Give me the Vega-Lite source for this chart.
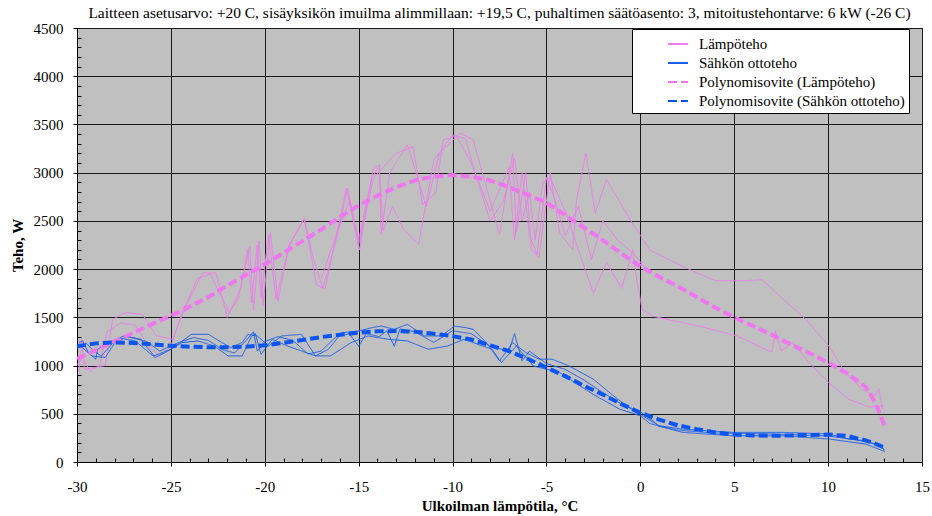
{
  "$schema": "https://vega.github.io/schema/vega-lite/v6.json",
  "width": 845,
  "height": 434,
  "autosize": {"type": "none"},
  "padding": {"left": 77, "top": 28, "right": 10, "bottom": 54},
  "background": "white",
  "title": {
    "text": "Laitteen asetusarvo: +20  C, sisäyksikön imuilma alimmillaan: +19,5  C, puhaltimen säätöasento: 3, mitoitustehontarve: 6 kW (-26  C)",
    "font": "'Liberation Serif', 'Times New Roman', serif",
    "fontSize": 15.5,
    "fontWeight": "normal",
    "color": "black",
    "anchor": "middle",
    "offset": 0
  },
  "config": {
    "view": {"stroke": "#111", "strokeWidth": 1, "fill": "#C0C0C0"},
    "axis": {
      "labelFont": "'Liberation Serif', 'Times New Roman', serif",
      "labelFontSize": 15,
      "labelColor": "black",
      "titleFont": "'Liberation Serif', 'Times New Roman', serif",
      "titleFontSize": 15,
      "titleFontWeight": "bold",
      "titleColor": "black",
      "domainColor": "black",
      "tickColor": "black",
      "gridColor": "#1a1a1a",
      "gridWidth": 1
    },
    "legend": {
      "orient": "none",
      "legendX": 555,
      "legendY": 1,
      "fillColor": "white",
      "strokeColor": "black",
      "padding": 4,
      "labelFont": "'Liberation Serif', 'Times New Roman', serif",
      "labelFontSize": 15,
      "labelColor": "black",
      "labelLimit": 400,
      "symbolType": "stroke",
      "symbolSize": 400,
      "symbolStrokeWidth": 2,
      "symbolOffset": 31,
      "labelOffset": 10,
      "rowPadding": 0
    }
  },
  "data": {
    "values": [
      {"s":"Lämpöteho","r":"L1","x":-29.9,"y":930},{"s":"Lämpöteho","r":"L1","x":-29.75,"y":1270},{"s":"Lämpöteho","r":"L1","x":-29.6,"y":960},{"s":"Lämpöteho","r":"L1","x":-28.5,"y":1000},{"s":"Lämpöteho","r":"L1","x":-28.1,"y":1480},{"s":"Lämpöteho","r":"L1","x":-27.4,"y":1550},{"s":"Lämpöteho","r":"L1","x":-26.5,"y":1530},{"s":"Lämpöteho","r":"L1","x":-25.8,"y":1310},{"s":"Lämpöteho","r":"L1","x":-24.9,"y":1270},{"s":"Lämpöteho","r":"L1","x":-24.2,"y":1620},{"s":"Lämpöteho","r":"L1","x":-23.3,"y":1960},{"s":"Lämpöteho","r":"L1","x":-22.6,"y":1960},{"s":"Lämpöteho","r":"L1","x":-22.0,"y":1500},{"s":"Lämpöteho","r":"L1","x":-21.3,"y":1790},{"s":"Lämpöteho","r":"L1","x":-20.8,"y":2240},{"s":"Lämpöteho","r":"L1","x":-20.6,"y":1570},{"s":"Lämpöteho","r":"L1","x":-20.3,"y":2290},{"s":"Lämpöteho","r":"L1","x":-20.1,"y":1620},{"s":"Lämpöteho","r":"L1","x":-19.7,"y":2380},{"s":"Lämpöteho","r":"L1","x":-19.3,"y":1670},{"s":"Lämpöteho","r":"L1","x":-18.7,"y":2250},{"s":"Lämpöteho","r":"L1","x":-17.9,"y":2530},{"s":"Lämpöteho","r":"L1","x":-17.25,"y":1840},{"s":"Lämpöteho","r":"L1","x":-16.8,"y":1790},{"s":"Lämpöteho","r":"L1","x":-15.65,"y":2840},{"s":"Lämpöteho","r":"L1","x":-14.95,"y":2200},{"s":"Lämpöteho","r":"L1","x":-14.24,"y":3030},{"s":"Lämpöteho","r":"L1","x":-13.9,"y":3080},{"s":"Lämpöteho","r":"L1","x":-13.8,"y":2360},{"s":"Lämpöteho","r":"L1","x":-13.35,"y":3000},{"s":"Lämpöteho","r":"L1","x":-12.4,"y":3290},{"s":"Lämpöteho","r":"L1","x":-11.4,"y":2650},{"s":"Lämpöteho","r":"L1","x":-10.7,"y":3200},{"s":"Lämpöteho","r":"L1","x":-9.6,"y":3410},{"s":"Lämpöteho","r":"L1","x":-8.9,"y":3340},{"s":"Lämpöteho","r":"L1","x":-7.5,"y":2360},{"s":"Lämpöteho","r":"L1","x":-6.8,"y":3200},{"s":"Lämpöteho","r":"L1","x":-6.6,"y":2390},{"s":"Lämpöteho","r":"L1","x":-6.1,"y":3000},{"s":"Lämpöteho","r":"L1","x":-5.8,"y":2200},{"s":"Lämpöteho","r":"L1","x":-5.4,"y":2120},{"s":"Lämpöteho","r":"L1","x":-4.8,"y":3000},{"s":"Lämpöteho","r":"L1","x":-4.3,"y":2380},{"s":"Lämpöteho","r":"L1","x":-3.6,"y":2200},{"s":"Lämpöteho","r":"L1","x":-3.4,"y":2720},{"s":"Lämpöteho","r":"L1","x":-2.9,"y":3200},{"s":"Lämpöteho","r":"L1","x":-2.4,"y":2580},{"s":"Lämpöteho","r":"L1","x":-1.8,"y":2930},{"s":"Lämpöteho","r":"L1","x":-0.5,"y":2500},{"s":"Lämpöteho","r":"L1","x":0.5,"y":2200},{"s":"Lämpöteho","r":"L1","x":1.5,"y":2100},{"s":"Lämpöteho","r":"L1","x":2.8,"y":1980},{"s":"Lämpöteho","r":"L1","x":4.0,"y":1880},{"s":"Lämpöteho","r":"L1","x":5.5,"y":1880},{"s":"Lämpöteho","r":"L1","x":6.5,"y":1890},{"s":"Lämpöteho","r":"L1","x":7.2,"y":1760},{"s":"Lämpöteho","r":"L1","x":8.8,"y":1480},{"s":"Lämpöteho","r":"L1","x":10.05,"y":1200},{"s":"Lämpöteho","r":"L1","x":10.9,"y":930},{"s":"Lämpöteho","r":"L1","x":11.8,"y":755},{"s":"Lämpöteho","r":"L1","x":12.5,"y":690},{"s":"Lämpöteho","r":"L1","x":12.7,"y":760},{"s":"Lämpöteho","r":"L1","x":12.9,"y":550},
      {"s":"Lämpöteho","r":"L2","x":-30,"y":1010},{"s":"Lämpöteho","r":"L2","x":-29.7,"y":1080},{"s":"Lämpöteho","r":"L2","x":-29.3,"y":940},{"s":"Lämpöteho","r":"L2","x":-28.8,"y":1000},{"s":"Lämpöteho","r":"L2","x":-28.4,"y":1350},{"s":"Lämpöteho","r":"L2","x":-27.7,"y":1440},{"s":"Lämpöteho","r":"L2","x":-26.9,"y":1420},{"s":"Lämpöteho","r":"L2","x":-26.2,"y":1200},{"s":"Lämpöteho","r":"L2","x":-25.6,"y":1100},{"s":"Lämpöteho","r":"L2","x":-25.0,"y":1200},{"s":"Lämpöteho","r":"L2","x":-24.4,"y":1550},{"s":"Lämpöteho","r":"L2","x":-23.6,"y":1900},{"s":"Lämpöteho","r":"L2","x":-22.9,"y":1950},{"s":"Lämpöteho","r":"L2","x":-22.4,"y":1750},{"s":"Lämpöteho","r":"L2","x":-21.9,"y":1550},{"s":"Lämpöteho","r":"L2","x":-21.4,"y":1700},{"s":"Lämpöteho","r":"L2","x":-20.9,"y":2200},{"s":"Lämpöteho","r":"L2","x":-20.7,"y":1650},{"s":"Lämpöteho","r":"L2","x":-20.4,"y":2250},{"s":"Lämpöteho","r":"L2","x":-20.2,"y":1700},{"s":"Lämpöteho","r":"L2","x":-19.8,"y":2350},{"s":"Lämpöteho","r":"L2","x":-19.4,"y":1690},{"s":"Lämpöteho","r":"L2","x":-18.7,"y":2240},{"s":"Lämpöteho","r":"L2","x":-17.9,"y":2520},{"s":"Lämpöteho","r":"L2","x":-17.4,"y":2100},{"s":"Lämpöteho","r":"L2","x":-16.9,"y":1800},{"s":"Lämpöteho","r":"L2","x":-16.2,"y":2300},{"s":"Lämpöteho","r":"L2","x":-15.6,"y":2840},{"s":"Lämpöteho","r":"L2","x":-15.0,"y":2300},{"s":"Lämpöteho","r":"L2","x":-14.3,"y":2950},{"s":"Lämpöteho","r":"L2","x":-13.9,"y":3060},{"s":"Lämpöteho","r":"L2","x":-13.7,"y":2400},{"s":"Lämpöteho","r":"L2","x":-13.2,"y":2650},{"s":"Lämpöteho","r":"L2","x":-12.6,"y":2410},{"s":"Lämpöteho","r":"L2","x":-11.8,"y":2260},{"s":"Lämpöteho","r":"L2","x":-11.0,"y":3130},{"s":"Lämpöteho","r":"L2","x":-10.0,"y":3390},{"s":"Lämpöteho","r":"L2","x":-9.3,"y":3350},{"s":"Lämpöteho","r":"L2","x":-8.8,"y":3000},{"s":"Lämpöteho","r":"L2","x":-8.0,"y":2500},{"s":"Lämpöteho","r":"L2","x":-7.3,"y":2700},{"s":"Lämpöteho","r":"L2","x":-6.7,"y":3150},{"s":"Lämpöteho","r":"L2","x":-6.3,"y":2500},{"s":"Lämpöteho","r":"L2","x":-5.9,"y":2800},{"s":"Lämpöteho","r":"L2","x":-5.6,"y":2300},{"s":"Lämpöteho","r":"L2","x":-5.2,"y":2900},{"s":"Lämpöteho","r":"L2","x":-4.8,"y":2950},{"s":"Lämpöteho","r":"L2","x":-4.0,"y":2600},{"s":"Lämpöteho","r":"L2","x":-3.3,"y":2200},{"s":"Lämpöteho","r":"L2","x":-2.5,"y":1750},{"s":"Lämpöteho","r":"L2","x":-1.8,"y":2070},{"s":"Lämpöteho","r":"L2","x":-1.0,"y":1800},{"s":"Lämpöteho","r":"L2","x":-0.4,"y":2200},{"s":"Lämpöteho","r":"L2","x":-0.2,"y":1900},{"s":"Lämpöteho","r":"L2","x":0.1,"y":1580},{"s":"Lämpöteho","r":"L2","x":0.7,"y":1510},{"s":"Lämpöteho","r":"L2","x":3.1,"y":1410},{"s":"Lämpöteho","r":"L2","x":5.1,"y":1310},{"s":"Lämpöteho","r":"L2","x":7.0,"y":1140},{"s":"Lämpöteho","r":"L2","x":7.2,"y":1360},{"s":"Lämpöteho","r":"L2","x":7.5,"y":1150},{"s":"Lämpöteho","r":"L2","x":8.1,"y":1240},{"s":"Lämpöteho","r":"L2","x":9.0,"y":1030},{"s":"Lämpöteho","r":"L2","x":10.05,"y":820},{"s":"Lämpöteho","r":"L2","x":11.1,"y":650},{"s":"Lämpöteho","r":"L2","x":12.2,"y":570},{"s":"Lämpöteho","r":"L2","x":12.9,"y":580},
      {"s":"Lämpöteho","r":"L3","x":-17.0,"y":1900},{"s":"Lämpöteho","r":"L3","x":-16.3,"y":2300},{"s":"Lämpöteho","r":"L3","x":-15.5,"y":2700},{"s":"Lämpöteho","r":"L3","x":-15.0,"y":2250},{"s":"Lämpöteho","r":"L3","x":-14.2,"y":2950},{"s":"Lämpöteho","r":"L3","x":-13.0,"y":3200},{"s":"Lämpöteho","r":"L3","x":-12.1,"y":3270},{"s":"Lämpöteho","r":"L3","x":-11.6,"y":2670},{"s":"Lämpöteho","r":"L3","x":-10.9,"y":2790},{"s":"Lämpöteho","r":"L3","x":-10.5,"y":3340},{"s":"Lämpöteho","r":"L3","x":-9.8,"y":3380},{"s":"Lämpöteho","r":"L3","x":-9.0,"y":3100},{"s":"Lämpöteho","r":"L3","x":-8.0,"y":2600},{"s":"Lämpöteho","r":"L3","x":-7.0,"y":3050},{"s":"Lämpöteho","r":"L3","x":-6.7,"y":2300},{"s":"Lämpöteho","r":"L3","x":-6.3,"y":3000},{"s":"Lämpöteho","r":"L3","x":-5.9,"y":2350},{"s":"Lämpöteho","r":"L3","x":-5.5,"y":2150},{"s":"Lämpöteho","r":"L3","x":-5.0,"y":2950},{"s":"Lämpöteho","r":"L3","x":-4.6,"y":2750},{"s":"Lämpöteho","r":"L3","x":-4.0,"y":2350},{"s":"Lämpöteho","r":"L3","x":-3.3,"y":2650},{"s":"Lämpöteho","r":"L3","x":-2.6,"y":2100},{"s":"Lämpöteho","r":"L3","x":-2.0,"y":2500},{"s":"Lämpöteho","r":"L3","x":-1.2,"y":2300},{"s":"Lämpöteho","r":"L3","x":-0.3,"y":2150},{"s":"Lämpöteho","r":"L3","x":0.5,"y":1950},
      {"s":"Sähkön ottoteho","r":"S1","x":-29.9,"y":1240},{"s":"Sähkön ottoteho","r":"S1","x":-29.7,"y":1255},{"s":"Sähkön ottoteho","r":"S1","x":-29.4,"y":1135},{"s":"Sähkön ottoteho","r":"S1","x":-29.0,"y":1066},{"s":"Sähkön ottoteho","r":"S1","x":-28.9,"y":1170},{"s":"Sähkön ottoteho","r":"S1","x":-28.3,"y":1240},{"s":"Sähkön ottoteho","r":"S1","x":-27.5,"y":1307},{"s":"Sähkön ottoteho","r":"S1","x":-26.6,"y":1272},{"s":"Sähkön ottoteho","r":"S1","x":-25.9,"y":1100},{"s":"Sähkön ottoteho","r":"S1","x":-25.0,"y":1170},{"s":"Sähkön ottoteho","r":"S1","x":-23.9,"y":1324},{"s":"Sähkön ottoteho","r":"S1","x":-23.0,"y":1324},{"s":"Sähkön ottoteho","r":"S1","x":-22.3,"y":1240},{"s":"Sähkön ottoteho","r":"S1","x":-21.8,"y":1186},{"s":"Sähkön ottoteho","r":"S1","x":-21.2,"y":1240},{"s":"Sähkön ottoteho","r":"S1","x":-20.9,"y":1324},{"s":"Sähkön ottoteho","r":"S1","x":-20.4,"y":1307},{"s":"Sähkön ottoteho","r":"S1","x":-19.8,"y":1203},{"s":"Sähkön ottoteho","r":"S1","x":-19.1,"y":1307},{"s":"Sähkön ottoteho","r":"S1","x":-18.05,"y":1324},{"s":"Sähkön ottoteho","r":"S1","x":-17.3,"y":1100},{"s":"Sähkön ottoteho","r":"S1","x":-16.6,"y":1170},{"s":"Sähkön ottoteho","r":"S1","x":-15.9,"y":1341},{"s":"Sähkön ottoteho","r":"S1","x":-15.0,"y":1358},{"s":"Sähkön ottoteho","r":"S1","x":-14.3,"y":1393},{"s":"Sähkön ottoteho","r":"S1","x":-13.8,"y":1410},{"s":"Sähkön ottoteho","r":"S1","x":-13.1,"y":1376},{"s":"Sähkön ottoteho","r":"S1","x":-12.4,"y":1427},{"s":"Sähkön ottoteho","r":"S1","x":-11.5,"y":1307},{"s":"Sähkön ottoteho","r":"S1","x":-10.6,"y":1307},{"s":"Sähkön ottoteho","r":"S1","x":-9.9,"y":1410},{"s":"Sähkön ottoteho","r":"S1","x":-9.3,"y":1393},{"s":"Sähkön ottoteho","r":"S1","x":-8.9,"y":1376},{"s":"Sähkön ottoteho","r":"S1","x":-8.2,"y":1238},{"s":"Sähkön ottoteho","r":"S1","x":-7.5,"y":1048},{"s":"Sähkön ottoteho","r":"S1","x":-6.8,"y":1238},{"s":"Sähkön ottoteho","r":"S1","x":-6.1,"y":1135},{"s":"Sähkön ottoteho","r":"S1","x":-5.4,"y":1066},{"s":"Sähkön ottoteho","r":"S1","x":-4.7,"y":1066},{"s":"Sähkön ottoteho","r":"S1","x":-3.8,"y":996},{"s":"Sähkön ottoteho","r":"S1","x":-2.5,"y":859},{"s":"Sähkön ottoteho","r":"S1","x":-1.65,"y":721},{"s":"Sähkön ottoteho","r":"S1","x":-0.76,"y":583},{"s":"Sähkön ottoteho","r":"S1","x":0.12,"y":479},{"s":"Sähkön ottoteho","r":"S1","x":1.0,"y":376},{"s":"Sähkön ottoteho","r":"S1","x":2.25,"y":341},{"s":"Sähkön ottoteho","r":"S1","x":4.9,"y":307},{"s":"Sähkön ottoteho","r":"S1","x":7.6,"y":307},{"s":"Sähkön ottoteho","r":"S1","x":10.05,"y":290},{"s":"Sähkön ottoteho","r":"S1","x":11.1,"y":238},{"s":"Sähkön ottoteho","r":"S1","x":12.0,"y":220},{"s":"Sähkön ottoteho","r":"S1","x":12.9,"y":152},{"s":"Sähkön ottoteho","r":"S1","x":13.0,"y":100},
      {"s":"Sähkön ottoteho","r":"S2","x":-29.8,"y":1200},{"s":"Sähkön ottoteho","r":"S2","x":-29.2,"y":1100},{"s":"Sähkön ottoteho","r":"S2","x":-28.5,"y":1083},{"s":"Sähkön ottoteho","r":"S2","x":-27.8,"y":1290},{"s":"Sähkön ottoteho","r":"S2","x":-26.9,"y":1255},{"s":"Sähkön ottoteho","r":"S2","x":-25.85,"y":1083},{"s":"Sähkön ottoteho","r":"S2","x":-25.3,"y":1135},{"s":"Sähkön ottoteho","r":"S2","x":-24.4,"y":1238},{"s":"Sähkön ottoteho","r":"S2","x":-23.55,"y":1255},{"s":"Sähkön ottoteho","r":"S2","x":-22.7,"y":1203},{"s":"Sähkön ottoteho","r":"S2","x":-21.95,"y":1100},{"s":"Sähkön ottoteho","r":"S2","x":-21.2,"y":1100},{"s":"Sähkön ottoteho","r":"S2","x":-20.7,"y":1307},{"s":"Sähkön ottoteho","r":"S2","x":-20.5,"y":1330},{"s":"Sähkön ottoteho","r":"S2","x":-20.2,"y":1117},{"s":"Sähkön ottoteho","r":"S2","x":-19.6,"y":1272},{"s":"Sähkön ottoteho","r":"S2","x":-18.8,"y":1203},{"s":"Sähkön ottoteho","r":"S2","x":-17.3,"y":1100},{"s":"Sähkön ottoteho","r":"S2","x":-16.5,"y":1100},{"s":"Sähkön ottoteho","r":"S2","x":-15.4,"y":1238},{"s":"Sähkön ottoteho","r":"S2","x":-14.5,"y":1307},{"s":"Sähkön ottoteho","r":"S2","x":-13.4,"y":1272},{"s":"Sähkön ottoteho","r":"S2","x":-12.4,"y":1255},{"s":"Sähkön ottoteho","r":"S2","x":-11.3,"y":1169},{"s":"Sähkön ottoteho","r":"S2","x":-10.25,"y":1203},{"s":"Sähkön ottoteho","r":"S2","x":-9.4,"y":1272},{"s":"Sähkön ottoteho","r":"S2","x":-7.9,"y":1169},{"s":"Sähkön ottoteho","r":"S2","x":-7.4,"y":1031},{"s":"Sähkön ottoteho","r":"S2","x":-6.6,"y":1203},{"s":"Sähkön ottoteho","r":"S2","x":-5.7,"y":996},{"s":"Sähkön ottoteho","r":"S2","x":-4.3,"y":928},{"s":"Sähkön ottoteho","r":"S2","x":-2.5,"y":700},{"s":"Sähkön ottoteho","r":"S2","x":-1.1,"y":548},{"s":"Sähkön ottoteho","r":"S2","x":0.0,"y":479},{"s":"Sähkön ottoteho","r":"S2","x":0.5,"y":400},{"s":"Sähkön ottoteho","r":"S2","x":2.25,"y":307},{"s":"Sähkön ottoteho","r":"S2","x":4.9,"y":272},{"s":"Sähkön ottoteho","r":"S2","x":7.6,"y":272},{"s":"Sähkön ottoteho","r":"S2","x":10.05,"y":238},{"s":"Sähkön ottoteho","r":"S2","x":12.0,"y":186},{"s":"Sähkön ottoteho","r":"S2","x":12.9,"y":117},
      {"s":"Sähkön ottoteho","r":"S3","x":-30,"y":1180},{"s":"Sähkön ottoteho","r":"S3","x":-29.5,"y":1230},{"s":"Sähkön ottoteho","r":"S3","x":-29.1,"y":1150},{"s":"Sähkön ottoteho","r":"S3","x":-28.7,"y":1100},{"s":"Sähkön ottoteho","r":"S3","x":-28.1,"y":1230},{"s":"Sähkön ottoteho","r":"S3","x":-27.3,"y":1300},{"s":"Sähkön ottoteho","r":"S3","x":-26.3,"y":1250},{"s":"Sähkön ottoteho","r":"S3","x":-25.6,"y":1150},{"s":"Sähkön ottoteho","r":"S3","x":-24.7,"y":1230},{"s":"Sähkön ottoteho","r":"S3","x":-23.8,"y":1290},{"s":"Sähkön ottoteho","r":"S3","x":-23.0,"y":1260},{"s":"Sähkön ottoteho","r":"S3","x":-22.2,"y":1160},{"s":"Sähkön ottoteho","r":"S3","x":-21.6,"y":1130},{"s":"Sähkön ottoteho","r":"S3","x":-21.0,"y":1260},{"s":"Sähkön ottoteho","r":"S3","x":-20.6,"y":1350},{"s":"Sähkön ottoteho","r":"S3","x":-20.4,"y":1150},{"s":"Sähkön ottoteho","r":"S3","x":-20.0,"y":1250},{"s":"Sähkön ottoteho","r":"S3","x":-19.3,"y":1300},{"s":"Sähkön ottoteho","r":"S3","x":-18.5,"y":1260},{"s":"Sähkön ottoteho","r":"S3","x":-17.7,"y":1120},{"s":"Sähkön ottoteho","r":"S3","x":-17.0,"y":1150},{"s":"Sähkön ottoteho","r":"S3","x":-16.2,"y":1300},{"s":"Sähkön ottoteho","r":"S3","x":-15.5,"y":1330},{"s":"Sähkön ottoteho","r":"S3","x":-15.0,"y":1200},{"s":"Sähkön ottoteho","r":"S3","x":-14.6,"y":1330},{"s":"Sähkön ottoteho","r":"S3","x":-13.9,"y":1300},{"s":"Sähkön ottoteho","r":"S3","x":-13.5,"y":1360},{"s":"Sähkön ottoteho","r":"S3","x":-13.1,"y":1200},{"s":"Sähkön ottoteho","r":"S3","x":-12.8,"y":1380},{"s":"Sähkön ottoteho","r":"S3","x":-12.0,"y":1350},{"s":"Sähkön ottoteho","r":"S3","x":-11.0,"y":1240},{"s":"Sähkön ottoteho","r":"S3","x":-10.0,"y":1360},{"s":"Sähkön ottoteho","r":"S3","x":-9.0,"y":1330},{"s":"Sähkön ottoteho","r":"S3","x":-8.0,"y":1200},{"s":"Sähkön ottoteho","r":"S3","x":-7.0,"y":1150},{"s":"Sähkön ottoteho","r":"S3","x":-6.7,"y":1330},{"s":"Sähkön ottoteho","r":"S3","x":-6.3,"y":1050},{"s":"Sähkön ottoteho","r":"S3","x":-5.9,"y":1150},{"s":"Sähkön ottoteho","r":"S3","x":-5.0,"y":1020},{"s":"Sähkön ottoteho","r":"S3","x":-4.0,"y":960},{"s":"Sähkön ottoteho","r":"S3","x":-3.0,"y":850},{"s":"Sähkön ottoteho","r":"S3","x":-2.0,"y":720},{"s":"Sähkön ottoteho","r":"S3","x":-1.0,"y":600},{"s":"Sähkön ottoteho","r":"S3","x":0.0,"y":520},{"s":"Sähkön ottoteho","r":"S3","x":0.7,"y":420},{"s":"Sähkön ottoteho","r":"S3","x":1.0,"y":370},{"s":"Sähkön ottoteho","r":"S3","x":2.0,"y":330},{"s":"Sähkön ottoteho","r":"S3","x":4.0,"y":300},{"s":"Sähkön ottoteho","r":"S3","x":7.0,"y":290},{"s":"Sähkön ottoteho","r":"S3","x":10.0,"y":270},{"s":"Sähkön ottoteho","r":"S3","x":11.5,"y":230},{"s":"Sähkön ottoteho","r":"S3","x":12.5,"y":190},{"s":"Sähkön ottoteho","r":"S3","x":13.0,"y":130},
      {"s":"Polynomisovite (Lämpöteho)","r":"FL","x":-30,"y":1070},{"s":"Polynomisovite (Lämpöteho)","r":"FL","x":-29,"y":1160},{"s":"Polynomisovite (Lämpöteho)","r":"FL","x":-28,"y":1250},{"s":"Polynomisovite (Lämpöteho)","r":"FL","x":-27,"y":1340},{"s":"Polynomisovite (Lämpöteho)","r":"FL","x":-26,"y":1430},{"s":"Polynomisovite (Lämpöteho)","r":"FL","x":-25,"y":1515},{"s":"Polynomisovite (Lämpöteho)","r":"FL","x":-24,"y":1610},{"s":"Polynomisovite (Lämpöteho)","r":"FL","x":-23,"y":1710},{"s":"Polynomisovite (Lämpöteho)","r":"FL","x":-22,"y":1830},{"s":"Polynomisovite (Lämpöteho)","r":"FL","x":-21,"y":1940},{"s":"Polynomisovite (Lämpöteho)","r":"FL","x":-20,"y":2050},{"s":"Polynomisovite (Lämpöteho)","r":"FL","x":-19,"y":2170},{"s":"Polynomisovite (Lämpöteho)","r":"FL","x":-18,"y":2290},{"s":"Polynomisovite (Lämpöteho)","r":"FL","x":-17,"y":2410},{"s":"Polynomisovite (Lämpöteho)","r":"FL","x":-16,"y":2540},{"s":"Polynomisovite (Lämpöteho)","r":"FL","x":-15,"y":2660},{"s":"Polynomisovite (Lämpöteho)","r":"FL","x":-14,"y":2760},{"s":"Polynomisovite (Lämpöteho)","r":"FL","x":-13,"y":2850},{"s":"Polynomisovite (Lämpöteho)","r":"FL","x":-12,"y":2920},{"s":"Polynomisovite (Lämpöteho)","r":"FL","x":-11,"y":2960},{"s":"Polynomisovite (Lämpöteho)","r":"FL","x":-10,"y":2975},{"s":"Polynomisovite (Lämpöteho)","r":"FL","x":-9,"y":2960},{"s":"Polynomisovite (Lämpöteho)","r":"FL","x":-8,"y":2920},{"s":"Polynomisovite (Lämpöteho)","r":"FL","x":-7,"y":2850},{"s":"Polynomisovite (Lämpöteho)","r":"FL","x":-6,"y":2770},{"s":"Polynomisovite (Lämpöteho)","r":"FL","x":-5,"y":2690},{"s":"Polynomisovite (Lämpöteho)","r":"FL","x":-4,"y":2560},{"s":"Polynomisovite (Lämpöteho)","r":"FL","x":-3,"y":2430},{"s":"Polynomisovite (Lämpöteho)","r":"FL","x":-2,"y":2300},{"s":"Polynomisovite (Lämpöteho)","r":"FL","x":-1,"y":2160},{"s":"Polynomisovite (Lämpöteho)","r":"FL","x":0,"y":2030},{"s":"Polynomisovite (Lämpöteho)","r":"FL","x":1,"y":1920},{"s":"Polynomisovite (Lämpöteho)","r":"FL","x":2,"y":1820},{"s":"Polynomisovite (Lämpöteho)","r":"FL","x":3,"y":1710},{"s":"Polynomisovite (Lämpöteho)","r":"FL","x":4,"y":1600},{"s":"Polynomisovite (Lämpöteho)","r":"FL","x":5,"y":1500},{"s":"Polynomisovite (Lämpöteho)","r":"FL","x":6,"y":1410},{"s":"Polynomisovite (Lämpöteho)","r":"FL","x":7,"y":1320},{"s":"Polynomisovite (Lämpöteho)","r":"FL","x":8,"y":1220},{"s":"Polynomisovite (Lämpöteho)","r":"FL","x":9,"y":1130},{"s":"Polynomisovite (Lämpöteho)","r":"FL","x":10,"y":1030},{"s":"Polynomisovite (Lämpöteho)","r":"FL","x":11,"y":920},{"s":"Polynomisovite (Lämpöteho)","r":"FL","x":12,"y":780},{"s":"Polynomisovite (Lämpöteho)","r":"FL","x":12.5,"y":620},{"s":"Polynomisovite (Lämpöteho)","r":"FL","x":13,"y":380},
      {"s":"Polynomisovite (Sähkön ottoteho)","r":"FS","x":-30,"y":1200},{"s":"Polynomisovite (Sähkön ottoteho)","r":"FS","x":-29,"y":1230},{"s":"Polynomisovite (Sähkön ottoteho)","r":"FS","x":-28,"y":1240},{"s":"Polynomisovite (Sähkön ottoteho)","r":"FS","x":-27,"y":1235},{"s":"Polynomisovite (Sähkön ottoteho)","r":"FS","x":-26,"y":1220},{"s":"Polynomisovite (Sähkön ottoteho)","r":"FS","x":-25,"y":1205},{"s":"Polynomisovite (Sähkön ottoteho)","r":"FS","x":-24,"y":1195},{"s":"Polynomisovite (Sähkön ottoteho)","r":"FS","x":-23,"y":1190},{"s":"Polynomisovite (Sähkön ottoteho)","r":"FS","x":-22,"y":1190},{"s":"Polynomisovite (Sähkön ottoteho)","r":"FS","x":-21,"y":1195},{"s":"Polynomisovite (Sähkön ottoteho)","r":"FS","x":-20,"y":1210},{"s":"Polynomisovite (Sähkön ottoteho)","r":"FS","x":-19,"y":1235},{"s":"Polynomisovite (Sähkön ottoteho)","r":"FS","x":-18,"y":1265},{"s":"Polynomisovite (Sähkön ottoteho)","r":"FS","x":-17,"y":1295},{"s":"Polynomisovite (Sähkön ottoteho)","r":"FS","x":-16,"y":1320},{"s":"Polynomisovite (Sähkön ottoteho)","r":"FS","x":-15,"y":1340},{"s":"Polynomisovite (Sähkön ottoteho)","r":"FS","x":-14,"y":1355},{"s":"Polynomisovite (Sähkön ottoteho)","r":"FS","x":-13,"y":1358},{"s":"Polynomisovite (Sähkön ottoteho)","r":"FS","x":-12,"y":1350},{"s":"Polynomisovite (Sähkön ottoteho)","r":"FS","x":-11,"y":1330},{"s":"Polynomisovite (Sähkön ottoteho)","r":"FS","x":-10,"y":1305},{"s":"Polynomisovite (Sähkön ottoteho)","r":"FS","x":-9,"y":1270},{"s":"Polynomisovite (Sähkön ottoteho)","r":"FS","x":-8,"y":1210},{"s":"Polynomisovite (Sähkön ottoteho)","r":"FS","x":-7,"y":1150},{"s":"Polynomisovite (Sähkön ottoteho)","r":"FS","x":-6,"y":1070},{"s":"Polynomisovite (Sähkön ottoteho)","r":"FS","x":-5,"y":980},{"s":"Polynomisovite (Sähkön ottoteho)","r":"FS","x":-4,"y":890},{"s":"Polynomisovite (Sähkön ottoteho)","r":"FS","x":-3,"y":790},{"s":"Polynomisovite (Sähkön ottoteho)","r":"FS","x":-2,"y":700},{"s":"Polynomisovite (Sähkön ottoteho)","r":"FS","x":-1,"y":600},{"s":"Polynomisovite (Sähkön ottoteho)","r":"FS","x":0,"y":510},{"s":"Polynomisovite (Sähkön ottoteho)","r":"FS","x":1,"y":440},{"s":"Polynomisovite (Sähkön ottoteho)","r":"FS","x":2,"y":380},{"s":"Polynomisovite (Sähkön ottoteho)","r":"FS","x":3,"y":340},{"s":"Polynomisovite (Sähkön ottoteho)","r":"FS","x":4,"y":305},{"s":"Polynomisovite (Sähkön ottoteho)","r":"FS","x":5,"y":285},{"s":"Polynomisovite (Sähkön ottoteho)","r":"FS","x":6,"y":275},{"s":"Polynomisovite (Sähkön ottoteho)","r":"FS","x":7,"y":272},{"s":"Polynomisovite (Sähkön ottoteho)","r":"FS","x":8,"y":275},{"s":"Polynomisovite (Sähkön ottoteho)","r":"FS","x":9,"y":280},{"s":"Polynomisovite (Sähkön ottoteho)","r":"FS","x":10,"y":285},{"s":"Polynomisovite (Sähkön ottoteho)","r":"FS","x":11,"y":270},{"s":"Polynomisovite (Sähkön ottoteho)","r":"FS","x":12,"y":225},{"s":"Polynomisovite (Sähkön ottoteho)","r":"FS","x":12.5,"y":190},{"s":"Polynomisovite (Sähkön ottoteho)","r":"FS","x":13,"y":150}
    ]
  },
  "encoding": {
    "x": {
      "field": "x",
      "type": "quantitative",
      "scale": {"domain": [-30, 15], "nice": false, "zero": false},
      "axis": {
        "title": "Ulkoilman lämpötila, °C",
        "values": [-30,-29,-28,-27,-26,-25,-24,-23,-22,-21,-20,-19,-18,-17,-16,-15,-14,-13,-12,-11,-10,-9,-8,-7,-6,-5,-4,-3,-2,-1,0,1,2,3,4,5,6,7,8,9,10,11,12,13,14,15],
        "labelExpr": "datum.value % 5 === 0 ? '' + datum.value : ''",
        "gridOpacity": {"condition": {"test": "datum.value % 5 === 0", "value": 1}, "value": 0},
        "tickSize": {"condition": {"test": "datum.value % 5 === 0", "value": 4}, "value": -4},
        "labelPadding": 13,
        "titlePadding": 4,
        "labelFlush": false,
        "labelOverlap": false
      }
    },
    "y": {
      "field": "y",
      "type": "quantitative",
      "scale": {"domain": [0, 4500], "nice": false},
      "axis": {
        "title": "Teho, W",
        "values": [0,100,200,300,400,500,600,700,800,900,1000,1100,1200,1300,1400,1500,1600,1700,1800,1900,2000,2100,2200,2300,2400,2500,2600,2700,2800,2900,3000,3100,3200,3300,3400,3500,3600,3700,3800,3900,4000,4100,4200,4300,4400,4500],
        "labelExpr": "datum.value % 500 === 0 ? '' + datum.value : ''",
        "gridOpacity": {"condition": {"test": "datum.value % 500 === 0", "value": 1}, "value": 0},
        "tickSize": {"condition": {"test": "datum.value % 500 === 0", "value": 4}, "value": -4},
        "labelPadding": 10,
        "titlePadding": 8,
        "labelFlush": false,
        "labelOverlap": false
      }
    },
    "detail": {"field": "r"},
    "color": {
      "field": "s",
      "type": "nominal",
      "scale": {
        "domain": ["Lämpöteho", "Sähkön ottoteho", "Polynomisovite (Lämpöteho)", "Polynomisovite (Sähkön ottoteho)"],
        "range": ["#EC7DEC", "#1A5FEA", "#F075F0", "#0A55F2"]
      },
      "legend": {"title": null}
    },
    "strokeDash": {
      "field": "s",
      "type": "nominal",
      "scale": {
        "domain": ["Lämpöteho", "Sähkön ottoteho", "Polynomisovite (Lämpöteho)", "Polynomisovite (Sähkön ottoteho)"],
        "range": [[1, 0], [1, 0], [9, 4], [9, 4]]
      },
      "legend": {"title": null}
    }
  },
  "layer": [
    {
      "transform": [{"filter": {"field": "s", "oneOf": ["Lämpöteho", "Sähkön ottoteho"]}}],
      "mark": {"type": "line", "clip": true, "strokeWidth": 1}
    },
    {
      "transform": [{"filter": {"field": "s", "oneOf": ["Polynomisovite (Lämpöteho)", "Polynomisovite (Sähkön ottoteho)"]}}],
      "mark": {"type": "line", "clip": true, "strokeWidth": 4}
    }
  ]
}
